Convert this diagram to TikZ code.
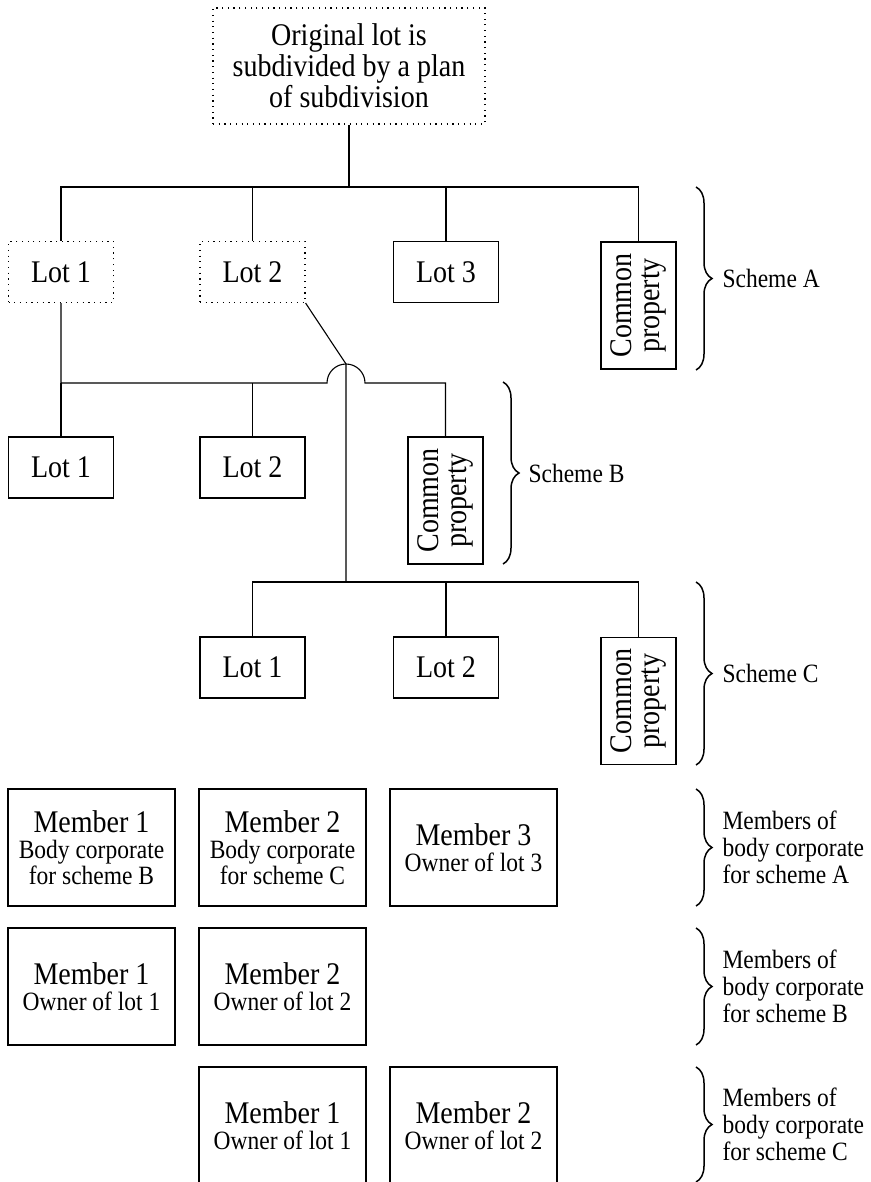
\documentclass[tikz,border=0pt]{standalone}
\usepackage{fontspec}
\setmainfont{Liberation Serif}[FakeStretch=0.89]
\usetikzlibrary{decorations.pathreplacing}

\tikzset{
  lotbox/.style={draw, minimum width=105pt, minimum height=61pt, inner sep=0pt,
    align=center, font=\fontsize{31.5}{31}\selectfont},
  dotbox/.style={lotbox, dash pattern=on 1.2pt off 4.5pt},
  cpbox/.style={draw, rotate=90, minimum width=127pt, minimum height=75pt, inner sep=0pt,
    align=center, font=\fontsize{31.5}{28}\selectfont},
  membox/.style={draw, minimum width=167pt, minimum height=117pt, inner sep=0pt,
    align=center, font=\fontsize{26.4}{26}\selectfont},
  schemebrace/.style={decorate, decoration={brace, amplitude=16pt}, line width=1.5pt},
  bracelabel/.style={anchor=west, align=left, inner sep=0pt, font=\fontsize{26.4}{27}\selectfont},
}

\begin{document}
\begin{tikzpicture}[x=1pt, y=-1pt, line width=1.1pt]
    \useasboundingbox (0,0) rectangle (870,1182);

    % original lot and scheme A
    \node [dotbox, minimum width=272pt, minimum height=116pt] (orig) at (349,66) {Original lot is\\subdivided by a plan\\of subdivision};
    \node [dotbox] (lotA1) at (61,272) {Lot 1};
    \node [dotbox] (lotA2) at (252.5,272) {Lot 2};
    \node [lotbox] (lotA3) at (446,272) {Lot 3};
    \node [cpbox] (cpA) at (638.5,305.5) {Common\\property};

    % scheme B
    \node [lotbox] (lotB1) at (61,467.5) {Lot 1};
    \node [lotbox] (lotB2) at (252.5,467.5) {Lot 2};
    \node [cpbox] (cpB) at (445.5,500.5) {Common\\property};

    % scheme C
    \node [lotbox] (lotC1) at (252.5,667.5) {Lot 1};
    \node [lotbox] (lotC2) at (446,667.5) {Lot 2};
    \node [cpbox] (cpC) at (638.5,701) {Common\\property};

    % bus points
    \coordinate (busA) at (349,187);
    \coordinate (hopL) at (327,383);
    \coordinate (apex) at (346,364);
    \coordinate (busC) at (346,582);

    \draw (orig.south) -- (busA);
    \draw (lotA1.north) |- (busA) -| (cpA.east);
    \draw (lotA2.north) -- (lotA2.north |- busA);
    \draw (lotA3.north) -- (lotA3.north |- busA);

    \draw (lotA1.south) |- (hopL) arc [start angle=180, end angle=0, radius=19pt] -| (cpB.east);
    \draw (lotB1.north) -- (lotB1.north |- hopL);
    \draw (lotB2.north) -- (lotB2.north |- hopL);

    \draw (lotA2.south east) -- (apex) -- (busC);
    \draw (lotC1.north) |- (busC) -| (cpC.east);
    \draw (lotC2.north) -- (lotC2.north |- busC);

    % members
    \node [membox] (memA1) at (91.5,847.5) {{\fontsize{31.5}{30}\selectfont Member 1}\\Body corporate\\for scheme B};
    \node [membox] (memA2) at (282.5,847.5) {{\fontsize{31.5}{30}\selectfont Member 2}\\Body corporate\\for scheme C};
    \node [membox] (memA3) at (473.5,847.5) {{\fontsize{31.5}{30}\selectfont Member 3}\\Owner of lot 3};
    \node [membox] (memB1) at (91.5,986.5) {{\fontsize{31.5}{30}\selectfont Member 1}\\Owner of lot 1};
    \node [membox] (memB2) at (282.5,986.5) {{\fontsize{31.5}{30}\selectfont Member 2}\\Owner of lot 2};
    \node [membox] (memC1) at (282.5,1125.5) {{\fontsize{31.5}{30}\selectfont Member 1}\\Owner of lot 1};
    \node [membox] (memC2) at (473.5,1125.5) {{\fontsize{31.5}{30}\selectfont Member 2}\\Owner of lot 2};

    % braces
    \draw [schemebrace] (696,187) -- (696,370);
    \node [bracelabel] (schA) at (722,278.5) {Scheme A};
    \draw [schemebrace] (503,382) -- (503,564);
    \node [bracelabel] (schB) at (528,473) {Scheme B};
    \draw [schemebrace] (696,582) -- (696,765);
    \node [bracelabel] (schC) at (722,673.5) {Scheme C};

    \draw [schemebrace] (696,789) -- (696,906);
    \node [bracelabel] (bcA) at (722,847.5) {Members of\\body corporate\\for scheme A};
    \draw [schemebrace] (696,928) -- (696,1045);
    \node [bracelabel] (bcB) at (722,986.5) {Members of\\body corporate\\for scheme B};
    \draw [schemebrace] (696,1067) -- (696,1182);
    \node [bracelabel] (bcC) at (722,1124.5) {Members of\\body corporate\\for scheme C};
\end{tikzpicture}
\end{document}
